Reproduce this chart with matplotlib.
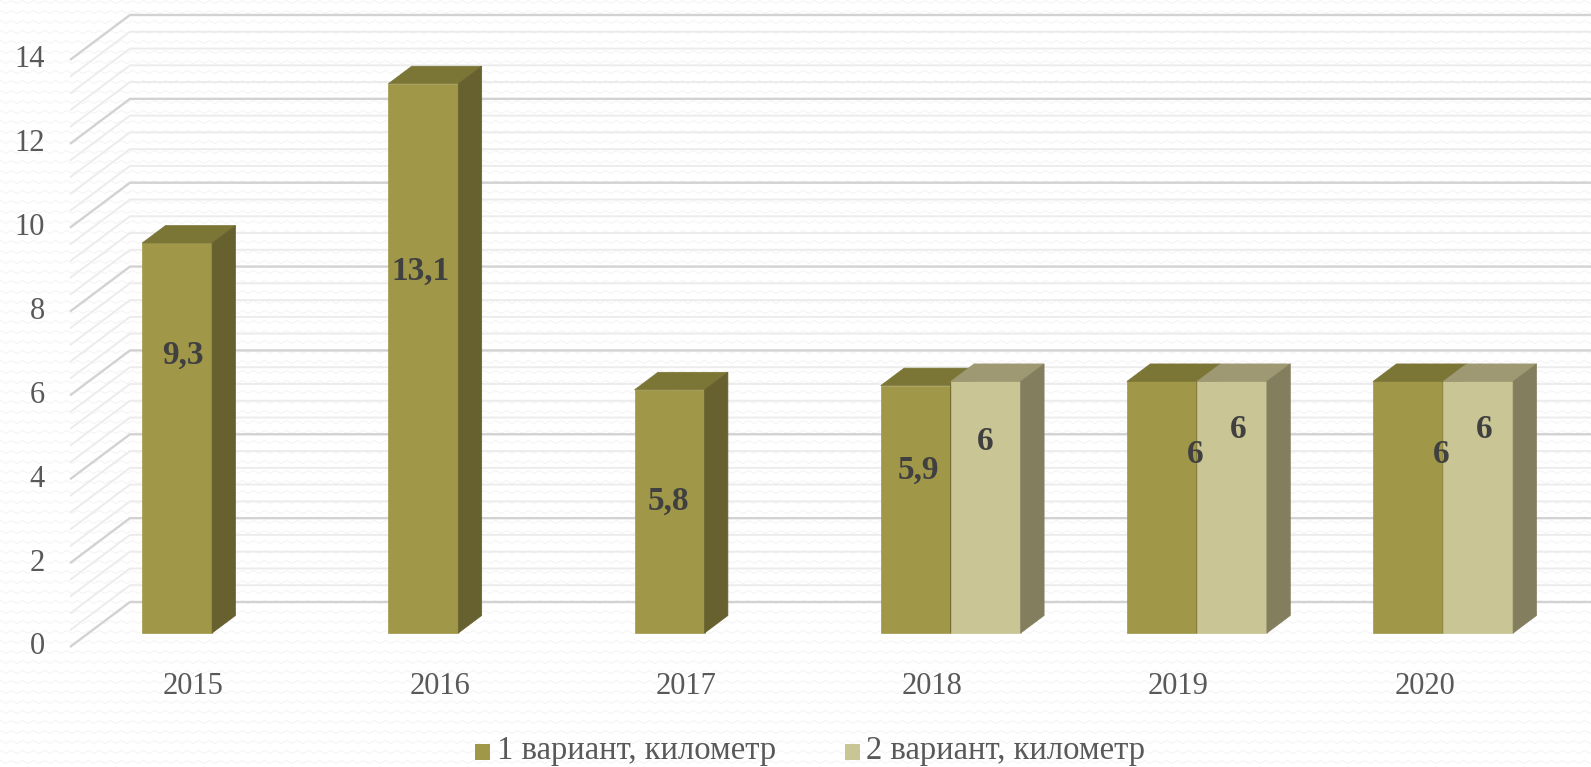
import numpy as np
import matplotlib
matplotlib.use("Agg")
import matplotlib.pyplot as plt
from matplotlib.patches import Polygon, Rectangle

# ---------------- data ----------------
categories = ["2015", "2016", "2017", "2018", "2019", "2020"]
series1_name = "1 вариант, километр"
series2_name = "2 вариант, километр"
series1 = [9.3, 13.1, 5.8, 5.9, 6, 6]
series2 = [None, None, None, 6, 6, 6]
label1 = ["9,3", "13,1", "5,8", "5,9", "6", "6"]
label2 = [None, None, None, "6", "6", "6"]
y_ticks = [0, 2, 4, 6, 8, 10, 12, 14]

# ---------------- layout (not data) ----------------
W, H = 1591, 767
X0_PX, PX_PER_CAT = 193.5, 246.2
Y0_PX, PX_PER_UNIT = 647.0, 41.93
DX = 60 / PX_PER_CAT          # full depth shift (x, category units)
DY = 45 / PX_PER_UNIT         # full depth shift (y, value units)
WALL_X = (70 - X0_PX) / PX_PER_CAT
F0, DEPTH = 0.31, 0.39
BAR_W = 70 / PX_PER_CAT
# data-label anchor: fraction of bar width, height above bar base (value units)
lbl1_fx = [0.58, 0.46, 0.48, 0.54, 0.97, 0.97]
lbl1_y = [6.63, 8.63, 3.15, 3.89, 4.25, 4.25]
lbl2_fx = [None, None, None, 0.49, 0.59, 0.59]
lbl2_y = [None, None, None, 4.56, 4.86, 4.86]

c1_front, c1_top, c1_side = "#A09848", "#7B7536", "#67612F"
c2_front, c2_top, c2_side = "#C9C594", "#9E9873", "#837E5E"
txt_col = "#595959"
lbl_col = "#404040"
FONT = "Liberation Serif"

def px_x(px):
    return (px - X0_PX) / PX_PER_CAT

def px_y(py):
    return (Y0_PX - py) / PX_PER_UNIT

fig = plt.figure(figsize=(W / 100, H / 100), dpi=100)

# background texture (faint zigzag)
bg = fig.add_axes([0, 0, 1, 1])
yy, xx = np.mgrid[0:H, 0:W].astype(float)
t = xx / 11.0
tri = 2 * np.abs(t - np.floor(t + 0.5))
yc = 3.0 * tri
R = 10.0
d = np.mod(yy - yc + R / 2, R) - R / 2
inten = np.exp(-(d / 0.7) ** 2)
tex = 1 - 0.05 * inten
bg.imshow(tex, cmap="gray", vmin=0, vmax=1, extent=(0, W, H, 0), interpolation="nearest")
bg.set_axis_off()

ax = fig.add_axes([0, 0, 1, 1])
ax.set_xlim(px_x(0), px_x(W))
ax.set_ylim(px_y(H), px_y(0))
ax.set_axis_off()
ax.patch.set_alpha(0)

# gridlines: side wall diagonals + back wall horizontals
xr = px_x(W)
for k in range(0, 36):
    v = round(k * 0.4, 2)
    major = abs(v / 2 - round(v / 2)) < 1e-6
    col = "#d2d2d2" if major else "#ececec"
    lw = 1.7 if major else 1.4
    ax.plot([WALL_X, WALL_X + DX, xr], [v, v + DY, v + DY], color=col, lw=lw,
            solid_capstyle="butt", zorder=1)

def draw_bar(x0, val, cf, ct, cs):
    x1 = x0 + BAR_W
    yb = F0 * DY
    yt = yb + val
    ddx, ddy = DEPTH * DX, DEPTH * DY
    front = [(x0, yb), (x1, yb), (x1, yt), (x0, yt)]
    top = [(x0, yt), (x1, yt), (x1 + ddx, yt + ddy), (x0 + ddx, yt + ddy)]
    side = [(x1, yb), (x1 + ddx, yb + ddy), (x1 + ddx, yt + ddy), (x1, yt)]
    for poly, c in ((front, cf), (top, ct), (side, cs)):
        ax.add_patch(Polygon(poly, closed=True, facecolor=c, edgecolor=c, lw=0.5, zorder=3))

for i in range(len(categories)):
    xs1 = i + F0 * DX - BAR_W
    xs2 = i + F0 * DX
    draw_bar(xs1, series1[i], c1_front, c1_top, c1_side)
    if series2[i] is not None:
        draw_bar(xs2, series2[i], c2_front, c2_top, c2_side)

for i in range(len(categories)):
    xs1 = i + F0 * DX - BAR_W
    xs2 = i + F0 * DX
    yb = F0 * DY
    ax.text(xs1 + lbl1_fx[i] * BAR_W, yb + lbl1_y[i], label1[i], ha="center", va="center",
            fontsize=24, fontweight="bold", color=lbl_col, family=FONT, zorder=5)
    if label2[i] is not None:
        ax.text(xs2 + lbl2_fx[i] * BAR_W, yb + lbl2_y[i], label2[i], ha="center", va="center",
                fontsize=24, fontweight="bold", color=lbl_col, family=FONT, zorder=5)

# y tick labels
for v in y_ticks:
    ax.text(px_x(45), v, str(v), ha="right", va="center", fontsize=22,
            color=txt_col, family=FONT)

# category labels
for i, c in enumerate(categories):
    ax.text(i, px_y(686), c, ha="center", va="center", fontsize=22,
            color=txt_col, family=FONT)

# legend
sq = 15
for (sx, tx, col, name) in ((475, 497, c1_front, series1_name), (845, 866, c2_front, series2_name)):
    fig.patches.append(Rectangle((sx / W, (H - 760) / H), sq / W, 16 / H,
                                 transform=fig.transFigure, facecolor=col, edgecolor="none"))
    fig.text(tx / W, (H - 759) / H, name, ha="left", va="baseline", fontsize=23.5,
             color=txt_col, family=FONT)

fig.savefig("out.png", dpi=100)
